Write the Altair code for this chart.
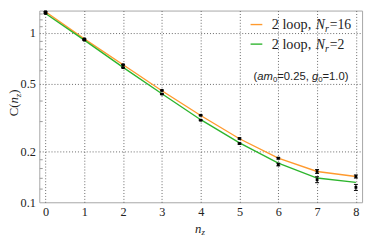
import altair as alt
import pandas as pd

# ---------------- data ----------------
nz = [0, 1, 2, 3, 4, 5, 6, 7, 8]
line_nr16 = [1.33, 0.92, 0.648, 0.455, 0.325, 0.237, 0.182, 0.152, 0.142]
line_nr2 = [1.30, 0.905, 0.625, 0.437, 0.307, 0.224, 0.170, 0.139, 0.131]
pts_nr16 = [1.33, 0.92, 0.648, 0.457, 0.326, 0.238, 0.182, 0.152, 0.142]
err_nr16 = [0.006, 0.004, 0.003, 0.003, 0.002, 0.002, 0.002, 0.004, 0.003]
pts_nr2 = [1.30, 0.905, 0.623, 0.435, 0.305, 0.222, 0.167, 0.136, 0.1225]
err_nr2 = [0.006, 0.004, 0.003, 0.003, 0.002, 0.002, 0.003, 0.0055, 0.005]
series_names = ["Nr16", "Nr2"]
series_colors = ["#ff9a2e", "#2db52d"]
x_ticks = [0, 1, 2, 3, 4, 5, 6, 7, 8]
y_ticks = [0.1, 0.2, 0.5, 1]
y_minor = [0.12, 0.14, 0.16, 0.18, 0.3, 0.4, 0.6, 0.7, 0.8, 0.9, 1.1, 1.2, 1.3]

rows = []
for s, vals in zip(series_names, [line_nr16, line_nr2]):
    for n, v in zip(nz, vals):
        rows.append({"nz": n, "C": v, "series": s})
df_lines = pd.DataFrame(rows)

rows = []
for s, vals, errs in zip(series_names, [pts_nr16, pts_nr2], [err_nr16, err_nr2]):
    for n, v, e in zip(nz, vals, errs):
        rows.append({"nz": n, "C": v, "lo": v - e, "hi": v + e, "series": s})
df_pts = pd.DataFrame(rows)

W, H = 330, 196
SERIF = "Liberation Serif"
SANS = "Liberation Sans"
INK = "#222222"

xscale = alt.Scale(domain=[-0.16, 8.16], nice=False, zero=False)
yscale = alt.Scale(type="log", domain=[0.1, 1.352], nice=False)

xaxis = alt.Axis(values=x_ticks, title=None, labelFont=SERIF, labelFontSize=12.5,
                 labelColor=INK, tickSize=0, labelPadding=4, domain=False,
                 grid=True, gridDash=[1, 2], gridColor="#666666", gridWidth=1)
yaxis = alt.Axis(values=y_ticks, title=None, format="~g", labelFont=SERIF,
                 labelFontSize=12.5, labelColor=INK, tickSize=0, labelPadding=4,
                 domain=False, grid=True, gridDash=[1, 2], gridColor="#666666",
                 gridWidth=1,
                 gridOpacity=alt.condition("datum.value <= 0.11", alt.value(0), alt.value(1)))
minor_axis = alt.Axis(values=y_minor, orient="right", offset=-W, labels=False,
                      title=None, domain=False, grid=False, tickSize=3,
                      tickColor="#999999", tickWidth=1)

X = alt.X("nz:Q", scale=xscale, axis=xaxis)

lines = alt.Chart(df_lines).mark_line(strokeWidth=1.4).encode(
    x=X,
    y=alt.Y("C:Q", scale=yscale, axis=yaxis),
    color=alt.Color("series:N", scale=alt.Scale(domain=series_names, range=series_colors),
                    legend=None),
)

minor = alt.Chart(pd.DataFrame({"v": y_minor, "nz": [0] * len(y_minor)})).mark_tick(
    opacity=0).encode(
    x=X,
    y=alt.Y("v:Q", scale=yscale, axis=minor_axis)
)

bars = alt.Chart(df_pts).mark_rule(color="black", strokeWidth=1).encode(
    x=X, y=alt.Y("lo:Q", scale=yscale, axis=None), y2="hi:Q"
)
cap_lo = alt.Chart(df_pts).mark_tick(orient="horizontal", size=4, thickness=1,
                                     color="black", opacity=1).encode(
    x=X, y=alt.Y("lo:Q", scale=yscale, axis=None)
)
cap_hi = alt.Chart(df_pts).mark_tick(orient="horizontal", size=4, thickness=1,
                                     color="black", opacity=1).encode(
    x=X, y=alt.Y("hi:Q", scale=yscale, axis=None)
)
points = alt.Chart(df_pts).mark_square(size=8, color="black", opacity=1).encode(
    x=X, y=alt.Y("C:Q", scale=yscale, axis=None)
)

one = pd.DataFrame({"a": [0]})


def txt(t, x, y, font=SERIF, size=13, style="normal", angle=0):
    props = dict(text=t, font=font, fontSize=size, fontStyle=style, align="left",
                 baseline="alphabetic", color=INK)
    if angle:
        props["angle"] = angle
    return alt.Chart(one).mark_text(**props).encode(x=alt.value(x), y=alt.value(y))


annots = []
# y title C(n_z), rotated
annots += [
    txt("C(", -22, 108, size=13, angle=270),
    txt("n", -22, 95, size=13, style="italic", angle=270),
    txt("z", -19, 88.5, size=9, style="italic", angle=270),
    txt(")", -22, 85, size=13, angle=270),
]
# x title n_z
annots += [
    txt("n", 159.3, 227, size=13, style="italic"),
    txt("z", 165.8, 229.5, size=9, style="italic"),
]
# legend
leg_rows = [(series_colors[0], "=16", 14.3, 18.7), (series_colors[1], "=2", 34.3, 39.3)]
for col, tail, ly, ty in leg_rows:
    annots.append(alt.Chart(one).mark_rule(color=col, strokeWidth=1.4).encode(
        x=alt.value(216), x2=alt.value(228), y=alt.value(ly)))
    annots += [
        txt("2 loop,", 237.7, ty, size=14.5),
        txt("N", 282.7, ty, size=14, style="italic"),
        txt("r", 292.2, ty + 3, size=10, style="italic"),
        txt(tail, 297, ty, size=14),
    ]
# parameter note
sans_w = {"(": 0.333, ")": 0.333, "a": 0.556, "m": 0.833, "g": 0.556, "=": 0.584,
          ".": 0.278, ",": 0.278, " ": 0.278}
for d in "0123456789":
    sans_w[d] = 0.556
pieces = [("(", 11.5, "normal", 0), ("am", 11.5, "italic", 0), ("0", 8, "normal", 2.5),
          ("=0.25, ", 11.5, "normal", 0), ("g", 11.5, "italic", 0), ("0", 8, "normal", 2.5),
          ("=1.0)", 11.5, "normal", 0)]
px = 219.0
for t, sz, st, dy in pieces:
    annots.append(txt(t, px, 70.5 + dy, font=SANS, size=sz, style=st))
    px += sum(sans_w[c] for c in t) * sz

chart = alt.layer(lines, minor, bars, cap_lo, cap_hi, points, *annots).resolve_axis(
    y="independent"
).properties(
    width=W, height=H,
    autosize=alt.AutoSizeParams(type="none"),
    padding={"left": 32, "top": 0, "right": 4, "bottom": 39},
    background="white",
).configure_view(stroke="#a6a6a6", strokeWidth=1)

chart.save("out.html", embed_options={"renderer": "svg", "actions": False})
